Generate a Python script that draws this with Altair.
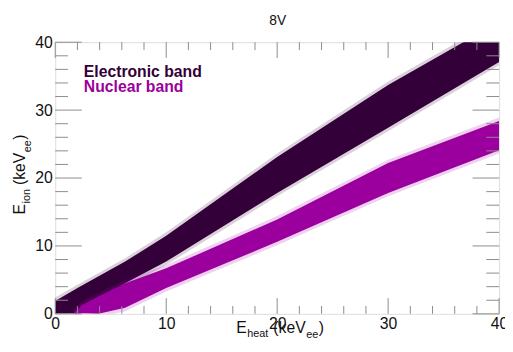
import altair as alt
import pandas as pd

# ---- data ----
elec_x = [0, 2, 6.3, 10, 20, 30, 40]
elec_lo = [0, 0.1, 4.5, 7.7, 17.8, 27.4, 37.1]
elec_hi = [1.9, 3.8, 7.7, 11.5, 23.1, 33.7, 43.0]

nuc_x = [1.6, 2.4, 3.9, 6.3, 10, 20, 30, 40]
nuc_lo = [0, 0.1, 0, 0.9, 3.8, 10.6, 17.8, 24.1]
nuc_hi = [0, 1.3, 2.6, 4.5, 6.7, 13.9, 22.2, 28.4]

x_major = [0, 10, 20, 30, 40]
x_minor = [v for v in range(0, 41, 2) if v % 10]
y_major = [0, 10, 20, 30, 40]
y_minor = [v for v in range(0, 41, 2) if v % 10]

title_text = "8V"
legend_labels = ["Electronic band", "Nuclear band"]

# ---- styling ----
W, H = 451, 276
DARK = "#34003a"
MAG = "#9b009e"
TICK = "#8c8c8c"
FONT = "Liberation Sans"

xs = alt.Scale(domain=[0, 40], nice=False, zero=False)
ys = alt.Scale(domain=[0, 40], nice=False, zero=False)
xaxis = alt.Axis(values=x_major, ticks=False, domain=False, grid=False, title=None,
                 labelFontSize=16, labelFont=FONT, labelColor="#111", labelPadding=2,
                 labelFlush=False, format="d")
yaxis = alt.Axis(values=y_major, ticks=False, domain=False, grid=False, title=None,
                 labelFontSize=16, labelFont=FONT, labelColor="#111", labelPadding=3,
                 labelFlush=False, format="d")

def X(f):
    return alt.X(f, type="quantitative", scale=xs, axis=xaxis)

def Y(f):
    return alt.Y(f, type="quantitative", scale=ys, axis=yaxis)

elec = pd.DataFrame({"x": elec_x, "lo": elec_lo, "hi": elec_hi})
nuc = pd.DataFrame({"x": nuc_x, "lo": nuc_lo, "hi": nuc_hi})

def band(df, color):
    halo = alt.Chart(df).transform_calculate(
        lo2="datum.lo - 0.5", hi2="datum.hi + 0.5"
    ).mark_area(color=color, opacity=0.18, clip=True).encode(
        x=X("x"), y=Y("lo2"), y2="hi2:Q")
    core = alt.Chart(df).mark_area(color=color, clip=True).encode(
        x=X("x"), y=Y("lo"), y2="hi:Q")
    return [halo, core]

layers = band(elec, DARK) + band(nuc, MAG)

def xticks(vals, length):
    d = pd.DataFrame({"v": vals})
    bot = alt.Chart(d).mark_rule(color=TICK, strokeWidth=1).encode(
        x=X("v"), y=alt.value(H), y2=alt.value(H - length))
    top = alt.Chart(d).mark_rule(color=TICK, strokeWidth=1).encode(
        x=X("v"), y=alt.value(0), y2=alt.value(length))
    return [bot, top]

def yticks(vals, length):
    d = pd.DataFrame({"v": vals})
    left = alt.Chart(d).mark_rule(color=TICK, strokeWidth=1).encode(
        y=Y("v"), x=alt.value(0), x2=alt.value(length))
    right = alt.Chart(d).mark_rule(color=TICK, strokeWidth=1).encode(
        y=Y("v"), x=alt.value(W), x2=alt.value(W - length))
    return [left, right]

layers += xticks(x_major, 16) + xticks(x_minor, 8) + yticks(y_major, 27) + yticks(y_minor, 13)

one = pd.DataFrame({"a": [0]})

def txt(s, x, y, size, color="#111", weight="normal", angle=0, align="left"):
    return alt.Chart(one).mark_text(
        text=s, fontSize=size, font=FONT, fontWeight=weight, color=color,
        angle=angle, align=align, baseline="alphabetic"
    ).encode(x=alt.value(x), y=alt.value(y))

# widths (Arial metrics, em)
def width(s, size):
    m = {"E": .667, "h": .556, "e": .556, "a": .556, "t": .278, " ": .278, "(": .333,
         "k": .5, "V": .667, ")": .333, "i": .222, "o": .556, "n": .556}
    return sum(m.get(c, .556) for c in s) * size

# title and legend text
layers.append(txt(title_text, 226, -18, 14, align="center"))
layers.append(txt(legend_labels[0], 29, 35, 16, color=DARK, weight="bold"))
layers.append(txt(legend_labels[1], 29, 51, 16, color=MAG, weight="bold"))

# x title: E_heat (keV_ee)
big, small = 16, 11
px, base = 184, 295
pieces = [("E", big, 0, 0.5), ("heat", small, 5, 5), ("(keV", big, 0, 0.5), ("ee", small, 6, 0.5), (")", big, 0, 0)]
for s, sz, dy, gap in pieces:
    layers.append(txt(s, px, base + dy, sz))
    px += width(s, sz) + gap

# y title: E_ion (keV_ee), rotated
py, bx = 175, -31
pieces = [("E", big, 0, 0.5), ("ion", small, 5, 4), ("(keV", big, 0, 0.5), ("ee", small, 6, 0.5), (")", big, 0, 0)]
for s, sz, dx, gap in pieces:
    layers.append(txt(s, bx + dx, py, sz, angle=270))
    py -= width(s, sz) + gap

chart = alt.layer(*layers).properties(
    width=W, height=H,
    autosize=alt.AutoSizeParams(type="none"),
    padding={"left": 48, "top": 32, "right": 6, "bottom": 36},
).configure_view(stroke="#999999", strokeWidth=1.5).configure(background="white")

chart.save("out.html", embed_options={"renderer": "svg", "actions": False})
